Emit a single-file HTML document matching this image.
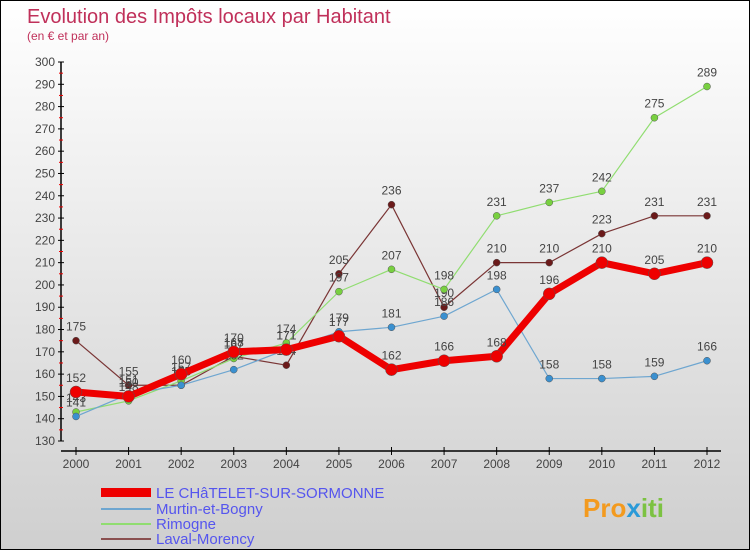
<!DOCTYPE html>
<html><head><meta charset="utf-8"><style>
body{margin:0;width:750px;height:550px;overflow:hidden;font-family:"Liberation Sans",sans-serif}
#wrap{position:relative;width:748px;height:548px;border:1px solid #000;background:linear-gradient(#fff,#cfcfcf)}
</style></head><body>
<div id="wrap">
<svg id="chart" width="748" height="548">
<text x="26" y="22" font-size="20" fill="#c0305a">Evolution des Impôts locaux par Habitant</text>
<text x="26" y="39" font-size="12" fill="#c0305a">(en € et par an)</text>
<g id="axes"></g><g id="series"></g>
<g>
<rect x="100" y="487" width="50" height="9" fill="#e00"/>
<text x="155" y="497" font-size="15" fill="#5555ee">LE CHâTELET-SUR-SORMONNE</text>
<line x1="100" y1="508" x2="150" y2="508" stroke="#6ea6d0" stroke-width="2"/>
<text x="155" y="513" font-size="15" fill="#5555ee">Murtin-et-Bogny</text>
<line x1="100" y1="523" x2="150" y2="523" stroke="#90dd70" stroke-width="2"/>
<text x="155" y="528" font-size="15" fill="#5555ee">Rimogne</text>
<line x1="100" y1="538" x2="150" y2="538" stroke="#8a5050" stroke-width="2"/>
<text x="155" y="543" font-size="15" fill="#5555ee">Laval-Morency</text>
</g>
<text x="582" y="516" font-size="26" font-weight="bold" fill="#f39a1e">Pro<tspan fill="#2a9ad8">x</tspan><tspan fill="#7cc242">iti</tspan></text>
</svg></div>
<script>
const years=[2000,2001,2002,2003,2004,2005,2006,2007,2008,2009,2010,2011,2012];
const chatelet=[152,150,160,170,171,177,162,166,168,196,210,205,210];
const murtin=[141,151,155,162,171,179,181,186,198,158,158,159,166];
const rimogne=[143,148,157,167,174,197,207,198,231,237,242,275,289];
const laval=[175,155,155,168,164,205,236,190,210,210,223,231,231];
const yTicks=[130,140,150,160,170,180,190,200,210,220,230,240,250,260,270,280,290,300];
const NS="http://www.w3.org/2000/svg";
function X(i){return 75+i*(706-75)/(years.length-1);}
function Y(v){return 61+(300-v)*(379/170);}
function mk(t,a,p){const e=document.createElementNS(NS,t);for(const k in a)e.setAttribute(k,a[k]);p.appendChild(e);return e;}
const ax=document.getElementById('axes');
const yl=mk('line',{x1:60,y1:61,x2:60,y2:440,stroke:'#000','stroke-width':1.5},ax);


yTicks.forEach(v=>{
 mk('line',{x1:57,y1:Y(v),x2:63,y2:Y(v),stroke:'#000'},ax);
 if(v<300)mk('line',{x1:58,y1:Y(v+5),x2:62,y2:Y(v+5),stroke:'#e00'},ax);
 const t=mk('text',{x:54,y:Y(v)+4,'font-size':12,fill:'#444','text-anchor':'end'},ax);t.textContent=v;
 
 
});
const xl=mk('line',{x1:60,y1:450,x2:720,y2:450,stroke:'#000','stroke-width':1.5},ax);


years.forEach((y,i)=>{
 mk('line',{x1:X(i),y1:446,x2:X(i),y2:454,stroke:'#000'},ax);
 const t=mk('text',{x:X(i),y:467,'font-size':12,fill:'#444','text-anchor':'middle'},ax);t.textContent=y;
 
 
});
const sg=document.getElementById('series');
function draw(arr,name,col,w,r,dot){
 const g=mk('g',{},sg);
 
 
 mk('polyline',{points:arr.map((v,i)=>X(i)+','+Y(v)).join(' '),fill:'none',stroke:col,'stroke-width':w,'stroke-linejoin':'round'},g);
 arr.forEach((v,i)=>{
  const c=mk('circle',{cx:X(i),cy:Y(v),r:r,fill:dot,stroke:'#555','stroke-width':0.5},g);
  
  
  const t=mk('text',{x:X(i),y:Y(v)-10,'font-size':12,fill:'#444','text-anchor':'middle'},g);t.textContent=v;
  
  
 });
}
draw(laval,'laval','#7a3535',1.2,3.5,'#6b1a1a');
draw(rimogne,'rimogne','#90dd70',1.2,3.5,'#78d040');
draw(murtin,'murtin','#6ea6d0',1.2,3.5,'#3a90d0');
draw(chatelet,'chatelet','#ee0000',7,6,'#ee0000');
</script>
</body></html>
